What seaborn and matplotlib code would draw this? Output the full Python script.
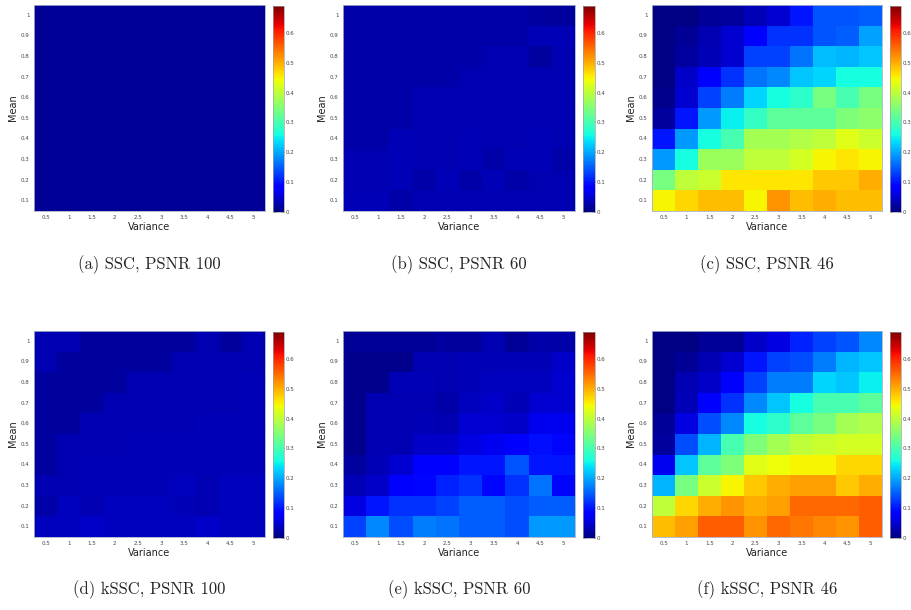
import numpy as np
import pandas as pd
import matplotlib
matplotlib.use("Agg")
import matplotlib.pyplot as plt
import seaborn as sns

variance_labels = ["0.5", "1", "1.5", "2", "2.5", "3", "3.5", "4", "4.5", "5"]
mean_labels = ["1", "0.9", "0.8", "0.7", "0.6", "0.5", "0.4", "0.3", "0.2", "0.1"]  # top to bottom
captions = ["(a) SSC, PSNR 100", "(b) SSC, PSNR 60", "(c) SSC, PSNR 46",
            "(d) kSSC, PSNR 100", "(e) kSSC, PSNR 60", "(f) kSSC, PSNR 46"]
cbar_ticks = [0, 0.1, 0.2, 0.3, 0.4, 0.5, 0.6]
cbar_ticklabels = ["0", "0.1", "0.2", "0.3", "0.4", "0.5", "0.6"]

ssc_psnr100 = [[0.015] * 10 for _ in range(10)]

ssc_psnr60 = [
    [0.025, 0.025, 0.025, 0.025, 0.025, 0.025, 0.025, 0.025, 0.02, 0.02],
    [0.025, 0.025, 0.025, 0.025, 0.025, 0.025, 0.025, 0.025, 0.035, 0.035],
    [0.025, 0.025, 0.025, 0.025, 0.025, 0.025, 0.03, 0.03, 0.02, 0.03],
    [0.025, 0.025, 0.025, 0.025, 0.025, 0.03, 0.03, 0.03, 0.03, 0.03],
    [0.025, 0.025, 0.025, 0.03, 0.03, 0.03, 0.03, 0.03, 0.03, 0.03],
    [0.025, 0.025, 0.025, 0.03, 0.03, 0.03, 0.03, 0.03, 0.03, 0.03],
    [0.025, 0.025, 0.035, 0.03, 0.03, 0.035, 0.03, 0.03, 0.035, 0.03],
    [0.03, 0.03, 0.035, 0.03, 0.03, 0.035, 0.025, 0.035, 0.035, 0.025],
    [0.03, 0.03, 0.035, 0.025, 0.035, 0.025, 0.035, 0.025, 0.03, 0.03],
    [0.035, 0.035, 0.025, 0.03, 0.03, 0.03, 0.03, 0.03, 0.03, 0.03],
]

ssc_psnr46 = [
    [0.005, 0.005, 0.015, 0.02, 0.035, 0.05, 0.10, 0.145, 0.145, 0.15],
    [0.005, 0.015, 0.03, 0.05, 0.08, 0.12, 0.12, 0.145, 0.15, 0.195],
    [0.005, 0.02, 0.035, 0.05, 0.13, 0.13, 0.165, 0.215, 0.21, 0.22],
    [0.005, 0.045, 0.08, 0.12, 0.165, 0.18, 0.22, 0.23, 0.26, 0.26],
    [0.01, 0.05, 0.13, 0.17, 0.23, 0.26, 0.28, 0.34, 0.30, 0.34],
    [0.02, 0.10, 0.19, 0.25, 0.285, 0.32, 0.32, 0.32, 0.345, 0.36],
    [0.10, 0.19, 0.26, 0.30, 0.38, 0.38, 0.39, 0.40, 0.43, 0.41],
    [0.19, 0.26, 0.37, 0.37, 0.40, 0.40, 0.42, 0.45, 0.46, 0.45],
    [0.34, 0.40, 0.41, 0.46, 0.46, 0.46, 0.46, 0.48, 0.48, 0.50],
    [0.45, 0.47, 0.49, 0.49, 0.45, 0.52, 0.49, 0.50, 0.49, 0.49],
]

kssc_psnr100 = [
    [0.03, 0.03, 0.02, 0.02, 0.02, 0.02, 0.02, 0.03, 0.02, 0.03],
    [0.03, 0.02, 0.02, 0.02, 0.02, 0.02, 0.03, 0.03, 0.03, 0.03],
    [0.02, 0.02, 0.02, 0.02, 0.03, 0.03, 0.03, 0.03, 0.03, 0.035],
    [0.02, 0.02, 0.02, 0.03, 0.03, 0.03, 0.03, 0.03, 0.03, 0.035],
    [0.02, 0.02, 0.03, 0.03, 0.03, 0.03, 0.03, 0.035, 0.035, 0.035],
    [0.02, 0.03, 0.03, 0.03, 0.035, 0.035, 0.035, 0.035, 0.035, 0.035],
    [0.02, 0.03, 0.035, 0.035, 0.035, 0.035, 0.035, 0.035, 0.035, 0.035],
    [0.03, 0.03, 0.035, 0.035, 0.035, 0.035, 0.04, 0.03, 0.04, 0.04],
    [0.025, 0.04, 0.03, 0.04, 0.04, 0.04, 0.035, 0.03, 0.04, 0.04],
    [0.04, 0.04, 0.045, 0.04, 0.04, 0.04, 0.04, 0.045, 0.04, 0.04],
]

kssc_psnr60 = [
    [0.015, 0.015, 0.015, 0.015, 0.02, 0.02, 0.03, 0.015, 0.025, 0.025],
    [0.01, 0.01, 0.01, 0.03, 0.03, 0.035, 0.035, 0.035, 0.035, 0.045],
    [0.01, 0.01, 0.035, 0.035, 0.03, 0.035, 0.04, 0.04, 0.04, 0.05],
    [0.01, 0.03, 0.03, 0.03, 0.025, 0.04, 0.045, 0.035, 0.05, 0.05],
    [0.01, 0.03, 0.03, 0.035, 0.03, 0.05, 0.05, 0.045, 0.07, 0.07],
    [0.01, 0.03, 0.03, 0.045, 0.045, 0.06, 0.07, 0.08, 0.095, 0.09],
    [0.02, 0.035, 0.05, 0.08, 0.085, 0.10, 0.10, 0.145, 0.10, 0.10],
    [0.035, 0.045, 0.08, 0.09, 0.11, 0.12, 0.09, 0.12, 0.165, 0.09],
    [0.06, 0.10, 0.12, 0.12, 0.13, 0.15, 0.15, 0.14, 0.15, 0.15],
    [0.13, 0.18, 0.14, 0.17, 0.165, 0.15, 0.15, 0.14, 0.19, 0.19],
]

kssc_psnr46 = [
    [0.005, 0.005, 0.015, 0.015, 0.045, 0.06, 0.11, 0.13, 0.145, 0.18],
    [0.005, 0.015, 0.03, 0.05, 0.10, 0.13, 0.14, 0.17, 0.21, 0.22],
    [0.005, 0.03, 0.045, 0.08, 0.13, 0.17, 0.17, 0.23, 0.22, 0.25],
    [0.005, 0.035, 0.08, 0.12, 0.18, 0.22, 0.26, 0.30, 0.30, 0.32],
    [0.015, 0.06, 0.14, 0.18, 0.26, 0.28, 0.32, 0.34, 0.38, 0.39],
    [0.02, 0.14, 0.21, 0.30, 0.345, 0.38, 0.40, 0.41, 0.42, 0.42],
    [0.07, 0.22, 0.32, 0.345, 0.43, 0.44, 0.45, 0.45, 0.47, 0.47],
    [0.21, 0.34, 0.41, 0.45, 0.48, 0.50, 0.51, 0.51, 0.48, 0.50],
    [0.40, 0.47, 0.50, 0.52, 0.50, 0.51, 0.55, 0.55, 0.55, 0.56],
    [0.49, 0.51, 0.56, 0.56, 0.52, 0.55, 0.54, 0.53, 0.52, 0.56],
]

panels = [ssc_psnr100, ssc_psnr60, ssc_psnr46, kssc_psnr100, kssc_psnr60, kssc_psnr46]

sns.set_style("white")
plt.rcParams["font.family"] = ["DejaVu Sans"]

W, H = 911, 610
fig = plt.figure(figsize=(W / 100, H / 100), dpi=100)


def px_axes(l, t, r, b):
    return fig.add_axes([l / W, 1 - b / H, (r - l) / W, (b - t) / H])


col_px = [(34, 265, 273, 284), (343, 575, 583, 595), (652, 882, 890, 901)]
row_px = [(5, 211), (331, 537)]
caption_y = [265, 590]

for i, data in enumerate(panels):
    r, c = divmod(i, 3)
    l, rr, cl, cr = col_px[c]
    t, b = row_px[r]
    ax = px_axes(l, t, rr, b)
    cax = px_axes(cl, t + 1, cr, b + 1)
    df = pd.DataFrame(data, index=mean_labels, columns=variance_labels)
    sns.heatmap(df, ax=ax, cbar_ax=cax, cmap="jet", vmin=0, vmax=0.69,
                cbar_kws={"ticks": cbar_ticks})
    ax.set_xlabel("Variance", fontsize=7, labelpad=1, color="#222222")
    ax.set_ylabel("Mean", fontsize=7, labelpad=2, color="#222222")
    ax.tick_params(axis="both", labelsize=4, length=1.5, direction="in", pad=3,
                   top=True, right=True, bottom=True, left=True,
                   labeltop=False, labelright=False, colors="#555555",
                   labelcolor="#444444", width=0.4)
    ax.set_xticklabels(variance_labels, rotation=0)
    ax.set_yticklabels(mean_labels, rotation=0)
    for s in ax.spines.values():
        s.set_visible(True)
        s.set_color("#a8b0c8")
        s.set_linewidth(0.6)
    cbar = ax.collections[0].colorbar
    cbar.set_ticks(cbar_ticks)
    cbar.set_ticklabels(cbar_ticklabels)
    cax.tick_params(labelsize=4, length=2, direction="in", pad=1.5,
                    left=True, right=True, colors="#555555",
                    labelcolor="#444444", width=0.4)
    cbar.outline.set_linewidth(0.5)
    cbar.outline.set_edgecolor("#a0a0a0")
    fig.text(((l + rr) / 2) / W, 1 - caption_y[r] / H, captions[i],
             ha="center", va="center", family="cmr10", fontsize=12)

fig.savefig("out.png", dpi=100)
